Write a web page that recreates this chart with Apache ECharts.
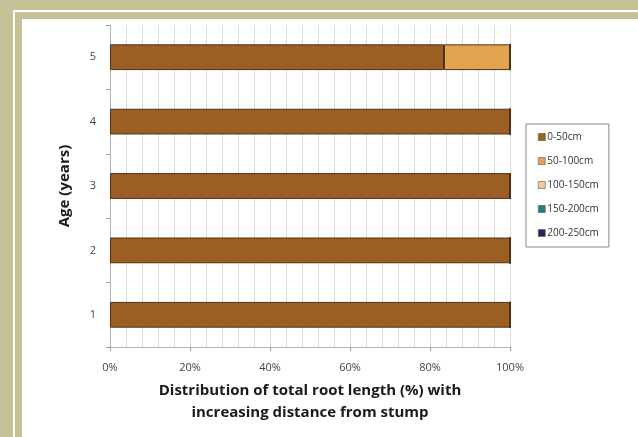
<!DOCTYPE html>
<html>
<head>
<meta charset="utf-8">
<script src="https://cdn.jsdelivr.net/npm/echarts@6/dist/echarts.min.js"></script>
<style>
  html, body { margin: 0; padding: 0; background: #ffffff; }
  #chart { width: 638px; height: 437px; }
</style>
</head>
<body>
<div id="chart"></div>
<script>
// Age classes (years), bottom to top
const ages = ['1', '2', '3', '4', '5'];

// Share of total root length (%) by distance band from the stump
const band0to50 = [100, 100, 100, 100, 83.5];
const band50to100 = [0, 0, 0, 0, 16.5];
const band100to150 = [0, 0, 0, 0, 0];
const band150to200 = [0, 0, 0, 0, 0];
const band200to250 = [0, 0, 0, 0, 0];

const bandNames = ['0-50cm', '50-100cm', '100-150cm', '150-200cm', '200-250cm'];
const bandColors = ['#9b5f26', '#e0a451', '#f2c9a2', '#16827f', '#222463'];
const bandValues = [band0to50, band50to100, band100to150, band150to200, band200to250];

const xTicks = [0, 20, 40, 60, 80, 100];

const FONT = '"Open Sans", "Noto Sans", sans-serif';
const KHAKI = '#c6c197';

const chart = echarts.init(document.getElementById('chart'), null, { renderer: 'canvas' });

const series = bandNames.map((name, i) => ({
  name: name,
  type: 'bar',
  stack: 'roots',
  xAxisIndex: 0,
  barCategoryGap: '60%',
  data: bandValues[i],
  itemStyle: { color: bandColors[i], borderColor: '#4f3217', borderWidth: 1 },
  emphasis: { disabled: true }
}));

chart.setOption({
  animation: false,
  backgroundColor: '#ffffff',
  graphic: [
    // khaki page frame with a thin white inset rule
    { type: 'rect', z: -10, shape: { x: 0, y: 0, width: 638, height: 10 }, style: { fill: KHAKI } },
    { type: 'rect', z: -10, shape: { x: 0, y: 0, width: 13, height: 437 }, style: { fill: KHAKI } },
    { type: 'rect', z: -10, shape: { x: 15, y: 12, width: 623, height: 7 }, style: { fill: KHAKI } },
    { type: 'rect', z: -10, shape: { x: 15, y: 12, width: 7, height: 425 }, style: { fill: KHAKI } }
  ],
  grid: { left: 110, right: 128, top: 25, bottom: 90, containLabel: false },
  legend: {
    orient: 'vertical',
    left: 526,
    top: 124,
    padding: [8, 10, 9, 12],
    itemGap: 14,
    itemWidth: 7,
    itemHeight: 7,
    icon: 'rect',
    borderColor: '#8a8a8a',
    borderWidth: 1,
    data: bandNames.map((n, i) => ({
      name: n,
      itemStyle: { color: bandColors[i], borderColor: '#6a5a40', borderWidth: 0.6 }
    })),
    textStyle: { fontFamily: FONT, fontSize: 10, color: '#333', padding: [0, 0, 0, -3] }
  },
  xAxis: [
    {
      // fine 4% grid
      type: 'value', min: 0, max: 100, interval: 4,
      axisLine: { show: false }, axisTick: { show: false }, axisLabel: { show: false },
      splitLine: { show: true, lineStyle: { color: '#d9d9d9', width: 1 } }
    },
    {
      // labelled 20% ticks
      type: 'value', min: 0, max: 100, interval: 20, position: 'bottom',
      axisLine: { show: true, lineStyle: { color: '#b5b5b5' } },
      axisTick: { show: true, length: 4, lineStyle: { color: '#9a9a9a' } },
      splitLine: { show: false },
      axisLabel: {
        fontFamily: FONT, fontSize: 11, color: '#444', margin: 15,
        formatter: v => (xTicks.indexOf(v) >= 0 ? v + '%' : '')
      },
      name: 'Distribution of total root length (%) with\nincreasing distance from stump',
      nameLocation: 'middle',
      nameGap: 33,
      nameTextStyle: { fontFamily: FONT, fontSize: 15, fontWeight: 'bold', color: '#1a1a1a', lineHeight: 22 }
    }
  ],
  yAxis: {
    type: 'category',
    data: ages,
    axisLine: { show: true, lineStyle: { color: '#b5b5b5' } },
    axisTick: { show: true, length: 4, lineStyle: { color: '#9a9a9a' } },
    axisLabel: { fontFamily: FONT, fontSize: 11, color: '#444', margin: 14 },
    name: 'Age (years)',
    nameLocation: 'middle',
    nameGap: 38,
    nameTextStyle: { fontFamily: FONT, fontSize: 15, fontWeight: 'bold', color: '#1a1a1a' }
  },
  series: series
});
</script>
</body>
</html>
